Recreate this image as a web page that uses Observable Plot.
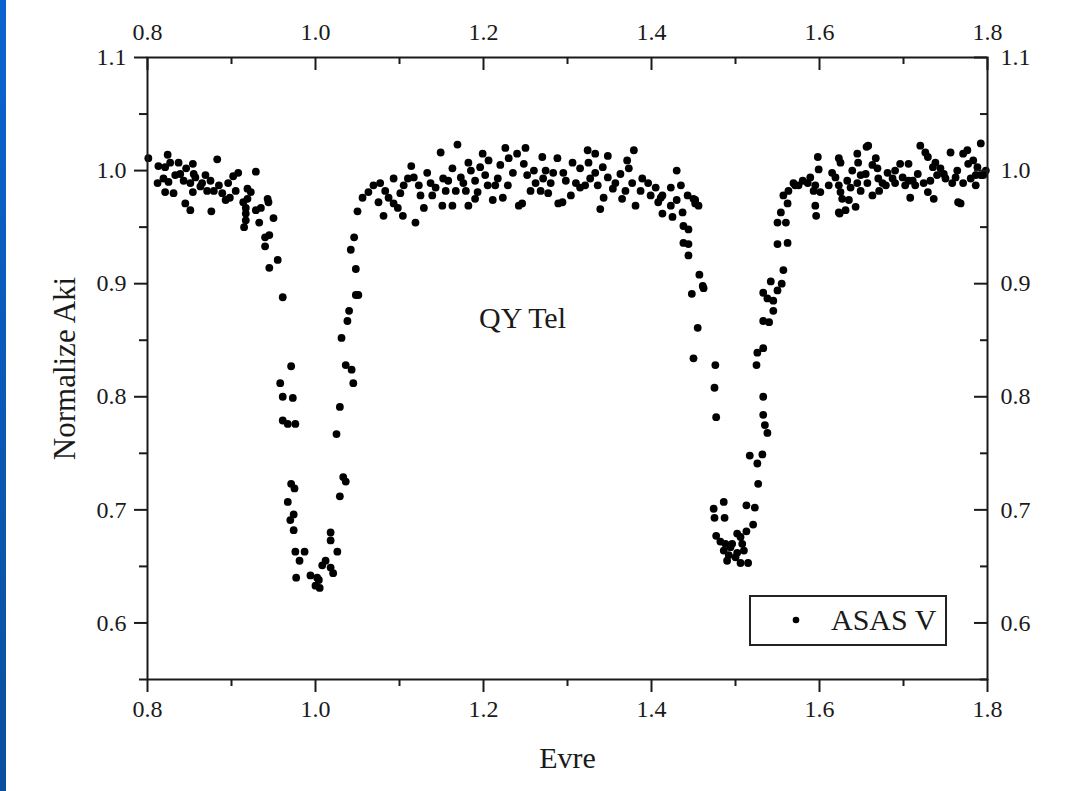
<!DOCTYPE html>
<html>
<head>
<meta charset="utf-8">
<script src="https://cdn.jsdelivr.net/npm/d3@7"></script>
<script src="https://cdn.jsdelivr.net/npm/@observablehq/plot@0.6"></script>
<style>
html, body { margin: 0; padding: 0; background: #fff; }
#wrap { position: relative; width: 1067px; height: 791px; overflow: hidden; background: #fff; }
#strip { position: absolute; left: 0; top: 0; width: 6px; height: 791px; background: linear-gradient(#0b63cf, #0a4f9e); }
#chart { position: absolute; left: 0; top: 0; }
#legend { position: absolute; left: 749px; top: 595px; }
</style>
</head>
<body>
<div id="wrap">
  <div id="strip"></div>
  <div id="chart"></div>
  <svg id="legend" width="199" height="52">
    <rect x="1" y="1" width="196" height="49" fill="#fff" stroke="#222" stroke-width="2"></rect>
    <circle cx="47" cy="25" r="3.3" fill="#000"></circle>
    <text id="legText" x="82" y="35" font-family="'Liberation Serif','Times New Roman',serif" font-size="30" fill="#1a1a1a"></text>
  </svg>
</div>
<script>
// ---- text ----
const xTitle = "Evre";
const yTitle = "Normalize Aki";
const starName = "QY Tel";
const seriesName = "ASAS V";

// ---- tick values ----
const xMajorTicks = [0.8, 1.0, 1.2, 1.4, 1.6, 1.8];
const xMinorTicks = [0.9, 1.1, 1.3, 1.5, 1.7];
const yMajorTicks = [0.6, 0.7, 0.8, 0.9, 1.0, 1.1];
const yMinorTicks = [0.55, 0.65, 0.75, 0.85, 0.95, 1.05];

// ---- observations (phase, normalized flux) ----
// out of eclipse, before primary minimum
const phaseA = [0.801,0.824,0.813,0.821,0.827,0.837,0.854,0.883,0.812,0.821,
 0.831,0.825,0.833,0.839,0.843,0.851,0.855,0.857,0.869,0.875,
 0.865,0.871,0.879,0.885,0.889,0.893,0.896,0.905,0.908,0.929,
 0.845,0.851,0.876,0.854,0.919,0.923,0.914,0.919,0.917,0.917,
 0.917,0.915,0.929,0.935,0.943,0.944,0.933,0.950,0.940,0.945,
 0.940,0.955,0.945,0.961,0.819,0.846,0.863,0.898,0.902];
const fluxA = [1.011,1.014,1.004,1.003,1.007,1.007,1.006,1.010,0.989,0.981,
 0.980,0.990,0.996,0.997,0.991,0.989,0.997,0.994,0.996,0.991,
 0.989,0.982,0.982,0.987,0.980,0.974,0.989,0.982,0.998,0.999,
 0.971,0.965,0.964,0.981,0.984,0.981,0.972,0.975,0.967,0.962,
 0.956,0.950,0.965,0.967,0.975,0.972,0.954,0.958,0.941,0.943,
 0.933,0.921,0.914,0.888,0.993,1.002,0.986,0.976,0.995];

// primary minimum
const phaseB = [0.971,0.958,0.961,0.973,0.961,0.967,0.976,0.971,0.975,0.967,
 0.974,0.970,0.974,0.976,0.987,0.981,0.977,0.994,1.002,1.000,
 1.005,1.004,1.008,1.012,1.018,1.021,1.018,1.018,1.026,1.029,
 1.033,1.036,1.025,1.029,1.045,1.043,1.036,1.031,1.038,1.040,
 1.048,1.051,1.048,1.042,1.046,1.050,1.056];
const fluxB = [0.827,0.812,0.800,0.799,0.779,0.776,0.776,0.723,0.719,0.707,
 0.696,0.691,0.682,0.663,0.663,0.655,0.640,0.642,0.640,0.633,
 0.631,0.638,0.651,0.655,0.649,0.644,0.680,0.673,0.663,0.712,
 0.729,0.725,0.767,0.791,0.812,0.824,0.828,0.852,0.867,0.876,
 0.890,0.890,0.913,0.930,0.941,0.964,0.976];

// out of eclipse, between minima
const phaseC = [1.069,1.077,1.081,1.075,1.093,1.093,1.098,1.104,1.105,1.101,
 1.114,1.117,1.119,1.123,1.129,1.133,1.137,1.143,1.149,1.151,
 1.152,1.155,1.163,1.163,1.169,1.167,1.173,1.176,1.182,1.185,
 1.182,1.190,1.193,1.190,1.196,1.199,1.206,1.205,1.211,1.217,
 1.220,1.223,1.226,1.229,1.230,1.240,1.242,1.246,1.250,1.248,
 1.252,1.260,1.262,1.270,1.268,1.271,1.277,1.280,1.288,1.289,
 1.283,
 1.063,1.083,1.087,1.110,1.125,1.139,1.158,1.179,1.202,1.214,1.235,1.256,1.274,
 1.294,1.295,1.304,1.306,1.315,1.315,1.324,1.325,1.327,1.333,
 1.333,1.339,1.342,1.343,1.348,1.348,1.354,1.363,1.365,1.371,
 1.373,1.379,1.377,1.381,1.389,1.396,1.405,1.408,1.413,1.423,
 1.423,1.425,1.430,1.435,1.437,1.438,1.443,1.452,1.456,
 1.298,1.310,1.321,1.336,1.357,1.369,1.387,1.399,1.413,1.430];
const fluxC = [0.987,0.989,0.960,0.972,0.993,0.971,0.967,0.960,0.987,0.980,
 1.004,0.994,0.954,0.987,0.967,0.998,0.989,0.985,1.016,0.969,
 0.993,0.982,1.002,0.969,1.023,0.982,0.994,0.989,1.007,1.000,
 0.969,0.991,0.981,0.975,1.003,1.015,1.009,0.987,0.974,0.993,
 1.005,0.976,1.020,0.987,1.011,1.015,0.969,0.971,1.020,1.006,
 0.996,1.000,0.989,1.012,0.982,0.993,0.980,0.989,1.011,0.971,
 0.998,
 0.981,0.982,0.976,0.993,0.978,0.978,0.991,0.982,0.996,0.987,0.998,0.982,1.000,
 0.972,0.998,0.978,1.007,1.002,0.985,1.018,1.007,0.993,1.015,
 0.998,0.966,1.003,0.976,1.013,0.994,0.984,0.997,0.975,1.009,
 1.002,1.018,0.989,0.969,0.993,0.989,0.985,0.972,0.962,0.985,
 0.969,0.959,1.000,0.987,0.963,0.951,0.978,0.974,0.969,
 0.991,0.989,0.987,0.987,0.989,0.982,0.982,0.978,0.978,0.974];

// secondary minimum
const phaseD = [1.411,1.450,1.452,
 1.444,1.438,1.444,1.444,1.457,1.461,1.462,1.448,1.455,1.450,1.476,
 1.475,1.477,1.486,1.474,1.475,1.487,1.477,1.482,1.488,1.486,
 1.492,1.490,1.494,1.500,1.496,1.502,1.506,1.508,1.502,1.510,
 1.506,1.515,1.513,1.521,1.513,1.523,1.527,1.517,1.532,1.526,
 1.533,1.533,1.535,1.538,
 1.525,1.526,1.533,1.533,1.540,1.545,1.545,1.538,1.533,1.542,
 1.550,1.555,1.557,1.550,1.562,1.550,1.560,1.554,1.562,1.557,
 1.563,1.571,1.595,1.596,1.623,1.593,1.601];
const fluxD = [0.976,0.975,0.971,
 0.948,0.936,0.935,0.925,0.908,0.898,0.896,0.891,0.861,0.834,0.828,
 0.808,0.782,0.707,0.701,0.693,0.693,0.677,0.672,0.670,0.664,
 0.660,0.655,0.667,0.658,0.670,0.679,0.676,0.670,0.662,0.664,
 0.653,0.653,0.681,0.687,0.704,0.702,0.723,0.748,0.749,0.741,
 0.800,0.784,0.775,0.768,
 0.828,0.839,0.843,0.867,0.866,0.876,0.885,0.887,0.892,0.902,
 0.894,0.900,0.912,0.935,0.936,0.954,0.954,0.963,0.971,0.978,
 0.982,0.987,0.969,0.960,0.963,0.982,0.981];

// out of eclipse, after secondary minimum
const phaseE = [1.569,1.575,1.580,1.586,1.589,1.595,1.598,1.599,1.615,1.619,
 1.623,1.625,1.623,1.625,1.627,1.624,1.631,1.633,1.637,1.643,
 1.645,1.646,1.645,1.649,1.649,1.656,1.658,1.655,1.657,1.667,
 1.669,1.670,1.671,1.681,1.687,1.696,1.699,1.706,1.706,1.708,
 1.717,1.720,1.724,1.726,1.729,1.729,1.735,1.736,1.738,1.740,
 1.748,1.756,1.758,1.764,1.765,1.768,1.771,1.776,1.777,1.780,
 1.783,1.788,1.792,1.792,1.795,1.771,1.679,1.690,1.711,1.750,
 1.786,1.663,1.635,
 1.611,1.639,1.663,1.675,1.690,1.702,1.714,1.732,1.744,1.762,1.786,1.798];
const fluxE = [0.989,0.987,0.991,0.989,0.994,0.987,1.012,1.001,0.998,0.994,
 1.011,1.007,0.987,0.981,0.975,0.962,0.965,0.991,0.985,0.968,
 1.015,1.007,0.989,0.996,0.982,1.021,1.022,0.997,0.989,1.011,
 1.002,0.993,0.982,0.998,0.993,1.006,0.994,1.006,0.991,0.976,
 0.997,1.022,0.989,1.016,1.012,0.981,1.003,0.975,1.007,0.996,
 0.997,1.016,0.989,1.000,0.972,0.971,1.015,1.018,1.006,0.993,
 1.009,1.003,1.024,0.996,0.996,0.989,0.987,0.989,0.991,0.993,
 0.996,0.978,0.974,
 0.987,1.000,1.005,0.989,1.000,0.987,0.987,0.991,1.002,0.994,0.987,1.000];

const phase = [].concat(phaseA, phaseB, phaseC, phaseD, phaseE);
const flux = [].concat(fluxA, fluxB, fluxC, fluxD, fluxE);
const points = phase.map((p, i) => ({phase: p, flux: flux[i]}));

const fmt = d3.format(".1f");
const font = "'Liberation Serif', 'Times New Roman', serif";
const ink = "#1a1a1a";
const plotW = 1067, plotH = 791, mL = 147, mR = 80, mT = 57, mB = 112;
const innerW = plotW - mL - mR, innerH = plotH - mT - mB;

const chart = Plot.plot({
  width: plotW, height: plotH,
  marginLeft: mL, marginRight: mR, marginTop: mT, marginBottom: mB,
  style: {fontFamily: font, fontSize: "24px", color: ink, background: "transparent"},
  x: {domain: [0.8, 1.8], label: null},
  y: {domain: [0.55, 1.1], label: null},
  marks: [
    Plot.dot(points, {x: "phase", y: "flux", r: 3.9, fill: "#000", stroke: "none"}),
    // bottom axis: outward ticks
    Plot.axisX({ticks: xMajorTicks, anchor: "bottom", tickSize: 13, tickPadding: 7, tickFormat: fmt, strokeWidth: 2, label: null}),
    Plot.axisX({ticks: xMinorTicks, anchor: "bottom", tickSize: 7, fill: "none", strokeWidth: 2, label: null}),
    // top axis: labels + inward ticks
    Plot.axisX({ticks: xMajorTicks, anchor: "top", tickSize: 0, tickPadding: 18, tickFormat: fmt, label: null}),
    Plot.tickX(xMajorTicks, {x: d => d, insetBottom: innerH - 13, strokeWidth: 2, stroke: ink}),
    Plot.tickX(xMinorTicks, {x: d => d, insetBottom: innerH - 7, strokeWidth: 2, stroke: ink}),
    // left axis: outward ticks
    Plot.axisY({ticks: yMajorTicks, anchor: "left", tickSize: 13, tickPadding: 8, tickFormat: fmt, strokeWidth: 2, label: null}),
    Plot.axisY({ticks: yMinorTicks, anchor: "left", tickSize: 8, fill: "none", strokeWidth: 2, label: null}),
    // right axis: labels + inward ticks
    Plot.axisY({ticks: yMajorTicks, anchor: "right", tickSize: 0, tickPadding: 13, tickFormat: fmt, label: null}),
    Plot.tickY(yMajorTicks, {y: d => d, insetLeft: innerW - 13, strokeWidth: 2, stroke: ink}),
    Plot.tickY(yMinorTicks, {y: d => d, insetLeft: innerW - 7, strokeWidth: 2, stroke: ink}),
    Plot.frame({stroke: ink, strokeWidth: 2}),
    // titles and annotation
    Plot.text([yTitle], {frameAnchor: "left", textAnchor: "middle", dx: -82, rotate: -90, fontSize: 31, fill: ink}),
    Plot.text([xTitle], {frameAnchor: "bottom", textAnchor: "middle", dy: 88, fontSize: 30, fill: ink}),
    Plot.text([starName], {frameAnchor: "middle", textAnchor: "middle", dx: -45, dy: -50, fontSize: 30, fill: ink})
  ]
});
document.getElementById("chart").appendChild(chart);
document.getElementById("legText").textContent = seriesName;
</script>
</body>
</html>
